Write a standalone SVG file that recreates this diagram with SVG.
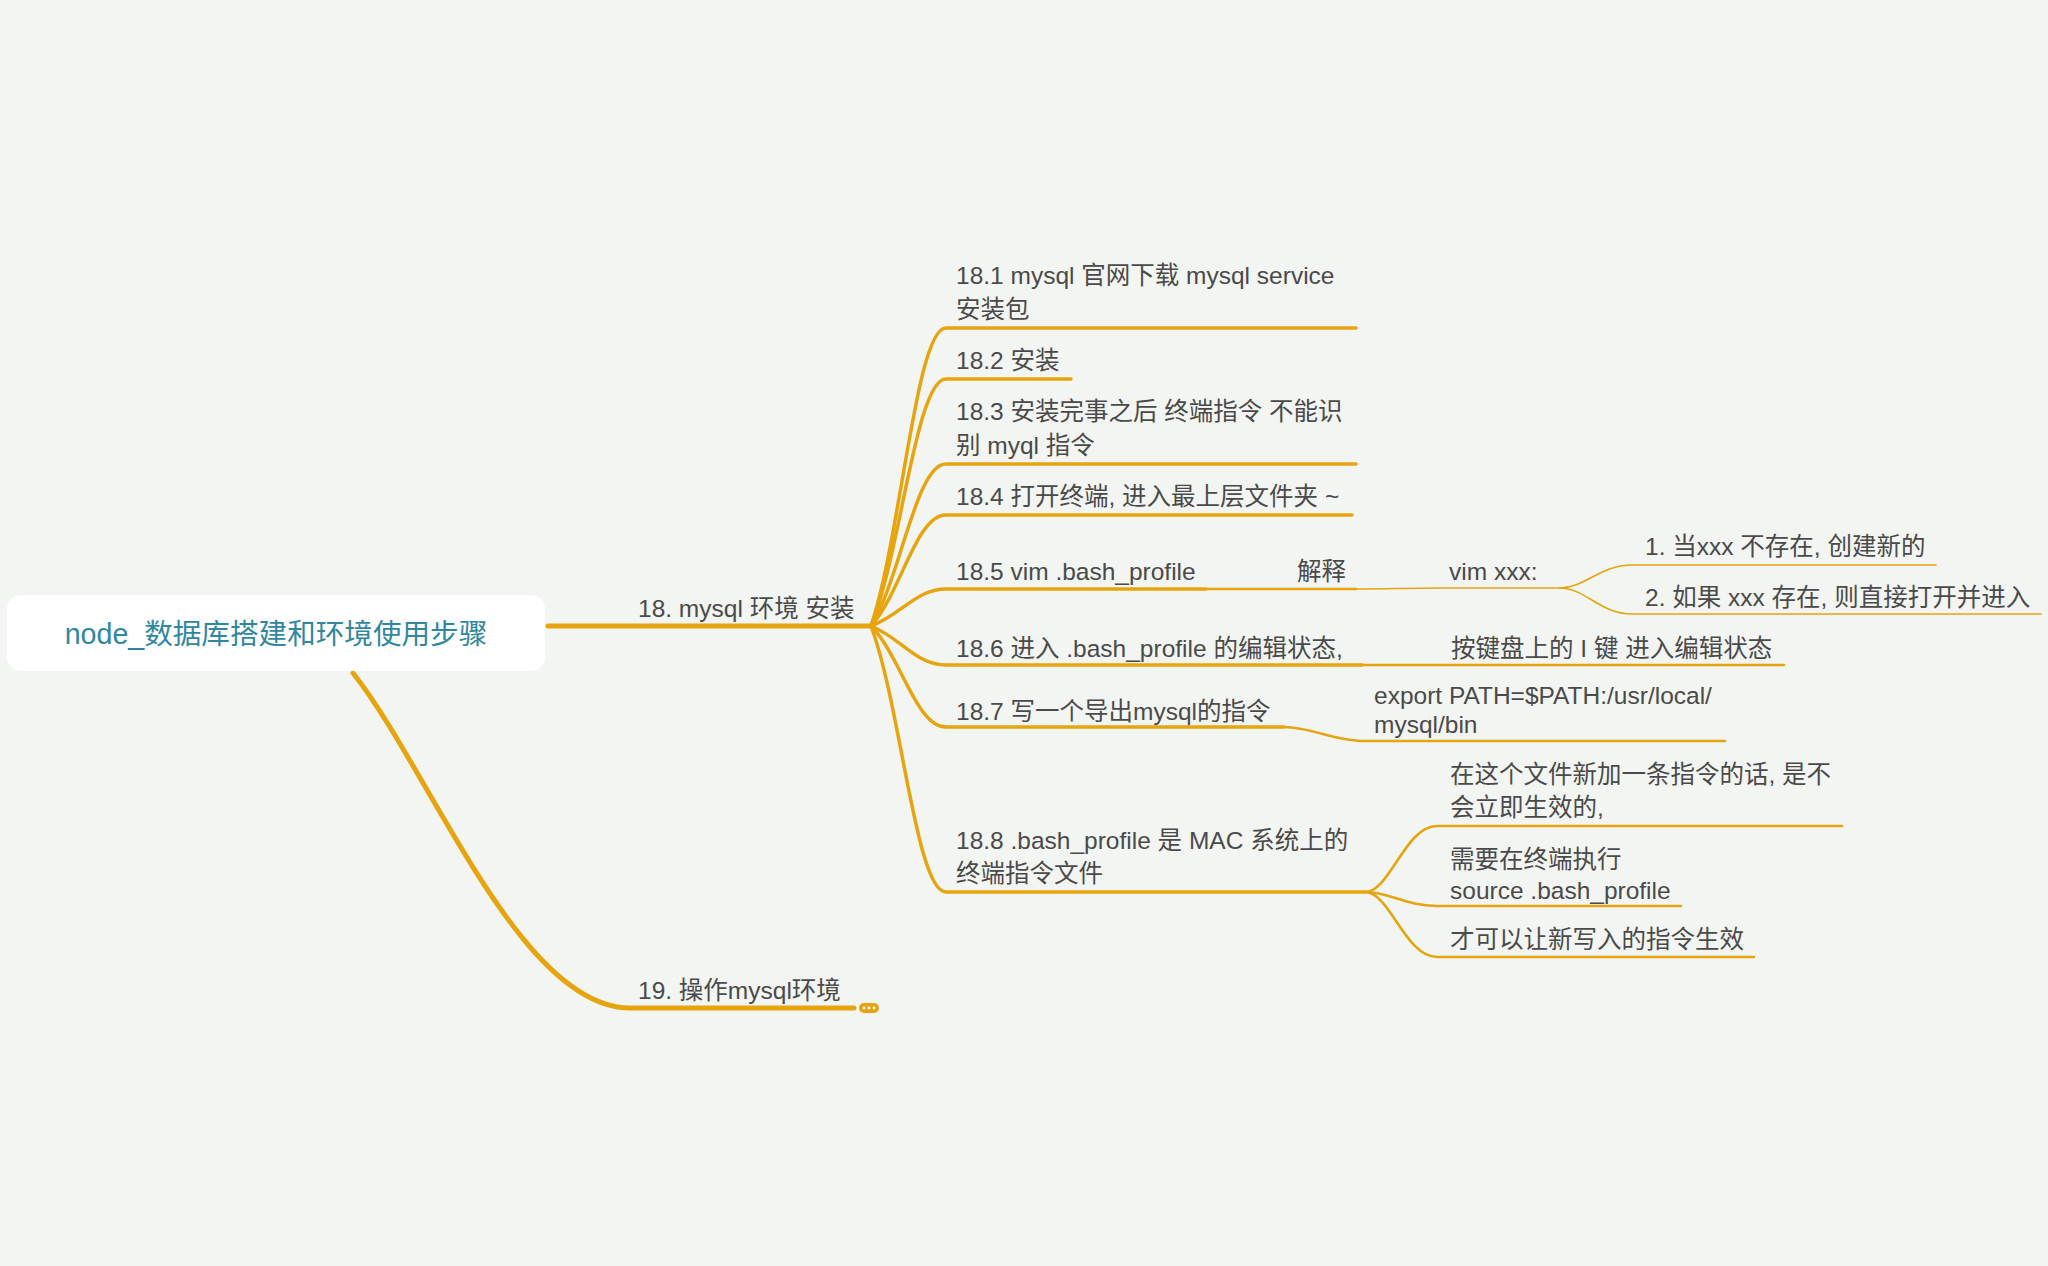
<svg xmlns="http://www.w3.org/2000/svg" width="2048" height="1266" viewBox="0 0 2048 1266">
<style>
.t{font-family:"Liberation Sans","Noto Sans CJK SC",sans-serif;font-size:24.5px;fill:#4a4a4a}
.root{font-family:"Liberation Sans","Noto Sans CJK SC",sans-serif;font-size:28.6px;fill:#3187a0;text-anchor:middle}
.l0{fill:none;stroke:#e6a40e;stroke-width:5;stroke-linecap:round}
.l1{fill:none;stroke:#e6a40e;stroke-width:3.5;stroke-linecap:round}
.l2{fill:none;stroke:#e6a40e;stroke-width:2.6;stroke-linecap:round}
.l3{fill:none;stroke:#e6a40e;stroke-width:1.6;stroke-linecap:round}
</style>
<rect width="2048" height="1266" fill="#f3f5f2"/>
<g id="connectors">
<path class="l0" d="M548,626 H871"/>
<path class="l0" d="M353,673 C430,770 520,1008 630,1008 H854"/>
<path class="l1" d="M871,626 C901,537 916,328 946,328 H1356"/>
<path class="l1" d="M871,626 C901,552 916,379 946,379 H1071"/>
<path class="l1" d="M871,626 C901,577 916,464 946,464 H1356"/>
<path class="l1" d="M871,626 C901,593 916,515 946,515 H1352"/>
<path class="l1" d="M871,626 C901,615 916,589 946,589 H1206"/>
<path class="l1" d="M871,626 C901,638 916,665 946,665 H1362"/>
<path class="l1" d="M871,626 C901,656 916,727 946,727 H1284"/>
<path class="l1" d="M871,626 C901,706 916,892 946,892 H1365"/>
<path class="l2" d="M1206,589 H1356"/>
<path class="l3" d="M1356,589 C1390,589 1405,588 1440,588 H1560"/>
<path class="l3" d="M1560,588 C1585,588 1600,565 1632,565 H1936"/>
<path class="l3" d="M1560,588 C1585,588 1600,614 1632,614 H2041"/>
<path class="l2" d="M1362,665 H1784"/>
<path class="l2" d="M1284,727 C1310,727 1335,741 1364,741 H1725"/>
<path class="l2" d="M1365,892 C1390,892 1405,826 1437,826 H1842"/>
<path class="l2" d="M1365,892 C1390,892 1405,906 1437,906 H1681"/>
<path class="l2" d="M1365,892 C1390,892 1405,957 1437,957 H1754"/>
</g>
<g id="root">
<rect x="7" y="595" width="538" height="76" rx="14" fill="#ffffff"/>
<text class="root" x="276" y="644">node_数据库搭建和环境使用步骤</text>
</g>
<g id="n18"><text class="t" x="638" y="617">18. mysql 环境 安装</text></g>
<g id="n19"><text class="t" x="638" y="999">19. 操作mysql环境</text>
<rect x="859" y="1003" width="20" height="10" rx="5" fill="#e6a40e"/>
<circle cx="864" cy="1008" r="1.4" fill="#fff"/><circle cx="869" cy="1008" r="1.4" fill="#fff"/><circle cx="874" cy="1008" r="1.4" fill="#fff"/>
</g>
<g id="n18-1"><text class="t" x="956" y="284">18.1 mysql 官网下载 mysql service</text><text class="t" x="956" y="318">安装包</text></g>
<g id="n18-2"><text class="t" x="956" y="369">18.2 安装</text></g>
<g id="n18-3"><text class="t" x="956" y="420">18.3 安装完事之后 终端指令 不能识</text><text class="t" x="956" y="454">别 myql 指令</text></g>
<g id="n18-4"><text class="t" x="956" y="505">18.4 打开终端, 进入最上层文件夹 ~</text></g>
<g id="n18-5"><text class="t" x="956" y="580">18.5 vim .bash_profile</text></g>
<g id="n-jieshi"><text class="t" x="1297" y="580">解释</text></g>
<g id="n-vim"><text class="t" x="1449" y="580">vim xxx:</text></g>
<g id="n-vim-1"><text class="t" x="1645" y="555">1. 当xxx 不存在, 创建新的</text></g>
<g id="n-vim-2"><text class="t" x="1645" y="606">2. 如果 xxx 存在, 则直接打开并进入</text></g>
<g id="n18-6"><text class="t" x="956" y="657">18.6 进入 .bash_profile 的编辑状态,</text></g>
<g id="n18-6-1"><text class="t" x="1451" y="657">按键盘上的 I 键 进入编辑状态</text></g>
<g id="n18-7"><text class="t" x="956" y="720">18.7 写一个导出mysql的指令</text></g>
<g id="n18-7-1"><text class="t" x="1374" y="704">export PATH=$PATH:/usr/local/</text><text class="t" x="1374" y="733">mysql/bin</text></g>
<g id="n18-8"><text class="t" x="956" y="849">18.8 .bash_profile 是 MAC 系统上的</text><text class="t" x="956" y="882">终端指令文件</text></g>
<g id="n18-8-1"><text class="t" x="1450" y="783">在这个文件新加一条指令的话, 是不</text><text class="t" x="1450" y="816">会立即生效的,</text></g>
<g id="n18-8-2"><text class="t" x="1450" y="868">需要在终端执行</text><text class="t" x="1450" y="899">source .bash_profile</text></g>
<g id="n18-8-3"><text class="t" x="1450" y="948">才可以让新写入的指令生效</text></g>
</svg>
